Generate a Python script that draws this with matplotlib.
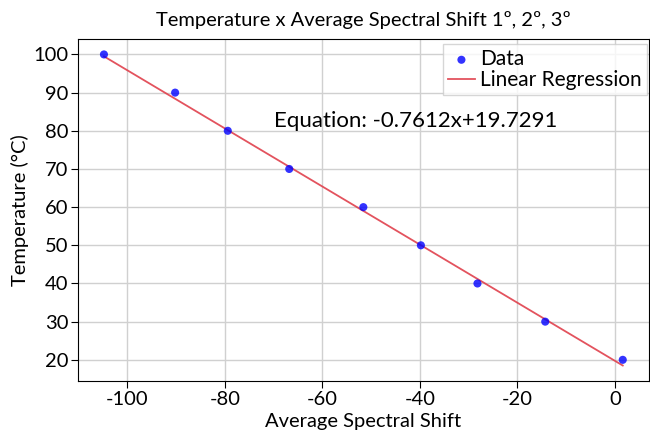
import numpy as np
import matplotlib
matplotlib.use("Agg")
import matplotlib.pyplot as plt

# dados
shift = [-104.8, -90.2, -79.4, -66.8, -51.6, -39.8, -28.2, -14.3, 1.6]
temperatura = [100, 90, 80, 70, 60, 50, 40, 30, 20]
coef_a = -0.7612
coef_b = 19.7291

plt.rcParams['font.family'] = ['Lato', 'DejaVu Sans']
plt.rcParams['axes.unicode_minus'] = False

fig = plt.figure(figsize=(6.5, 4.37), dpi=100)
ax = fig.add_axes([0.12, 0.128, 0.878, 0.783])

x = np.array(shift)
ax.scatter(x, temperatura, color='blue', s=34, alpha=0.8, edgecolors='none', label='Data', zorder=3)
ax.plot(x, coef_a * x + coef_b, color='#e0404c', lw=1.3, alpha=0.9, label='Linear Regression', zorder=2)

ax.text(-70, 82.5, f"Equation: {coef_a}x+{coef_b}", fontsize=16, va='center')

ax.set_title("Temperature x Average Spectral Shift 1º, 2º, 3º", fontsize=14.5, pad=9)
ax.set_xlabel("Average Spectral Shift", fontsize=14.5, labelpad=4)
ax.set_ylabel("Temperature (°C)", fontsize=14.5, labelpad=3)
ax.set_yticks(sorted(temperatura))
ax.tick_params(labelsize=14.5, length=5, pad=2)
ax.grid(True, color='#d0d0d0', lw=1)
ax.set_axisbelow(True)

ax.legend(loc='upper left', bbox_to_anchor=(0.639, 0.985), fontsize=15,
          handlelength=1.3, handletextpad=0.25, labelspacing=0.05,
          borderpad=0.25, borderaxespad=0, fancybox=False, edgecolor='#cccccc')

fig.savefig("out.png", dpi=100)
